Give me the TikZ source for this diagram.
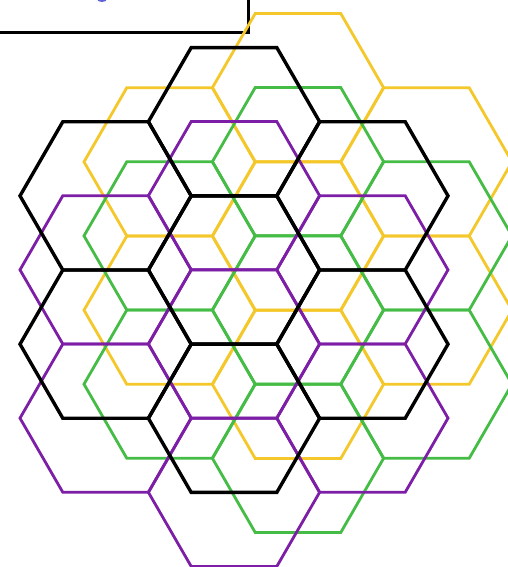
\documentclass[tikz,border=0pt]{standalone}
\usetikzlibrary{calc}
\definecolor{hexyellow}{HTML}{F4C82A}
\definecolor{hexgreen}{HTML}{45BC45}
\definecolor{hexpurple}{HTML}{7D1FA6}
\definecolor{hexblue}{HTML}{3A3ACF}
\tikzset{
  hexline/.style={line width=2.8pt, line join=miter},
  blackline/.style={line width=3.4pt, line join=miter, black},
}
\newcommand{\hexflower}[4]{%
  \foreach \dx/\dy in {0/0, 0/-148.3, 0/148.3, -128.4/-74.15, -128.4/74.15, 128.4/-74.15, 128.4/74.15}{
    \draw[#3, #4] ($(#1+\dx,#2+\dy)+(0:85.6)$) -- ++(120:85.6) -- ++(180:85.6) -- ++(240:85.6) -- ++(300:85.6) -- ++(0:85.6) -- cycle;
  }%
}
\begin{document}
\begin{tikzpicture}[x=1pt, y=-1pt]
\useasboundingbox (0,0) rectangle (508,567);
\fill[white] (0,0) rectangle (508,567);
% partially visible box at top left
\draw[line width=3pt] (-5,33) -- (248,33) -- (248,-5);
\begin{scope}
\clip (0,0) rectangle (508,567);
\fill[hexblue!80] (102,-1) ellipse (5pt and 3pt);
\end{scope}
% hexagonal flowers
\hexflower{298}{236}{hexline}{hexyellow}
\hexflower{298}{310}{hexline}{hexgreen}
\hexflower{234}{344}{hexline}{hexpurple}
\hexflower{234}{270}{blackline}{black}
\end{tikzpicture}
\end{document}
